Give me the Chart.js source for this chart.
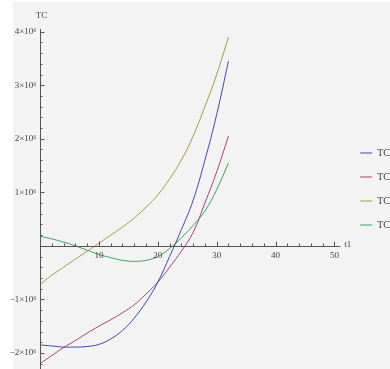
<!DOCTYPE html>
<html>
<head>
<meta charset="utf-8">
<script src="https://cdn.jsdelivr.net/npm/chart.js@4.4.1/dist/chart.umd.min.js"></script>
<style>
  html, body { margin: 0; padding: 0; background: #fff; overflow: hidden; }
  #wrap { width: 390px; height: 369px; overflow: hidden; }
</style>
</head>
<body>
<div id="wrap"><canvas id="chart" width="405" height="369"></canvas></div>
<script>
// t1 sample positions
const tValues = [0, 2, 4, 6, 8, 10, 12, 14, 16, 18, 20, 22, 24, 26, 28, 30, 32];

// TC values (in units of 10^6)
const blueTC  = [-1.85, -1.87, -1.89, -1.89, -1.88, -1.84, -1.74, -1.58, -1.35, -1.05, -0.68, -0.2, 0.3, 0.85, 1.6, 2.45, 3.45];
const redTC   = [-2.2, -2.05, -1.9, -1.77, -1.63, -1.5, -1.38, -1.25, -1.1, -0.9, -0.68, -0.4, -0.1, 0.25, 0.8, 1.38, 2.05];
const oliveTC = [-0.72, -0.55, -0.4, -0.25, -0.1, 0.05, 0.2, 0.35, 0.52, 0.72, 0.95, 1.25, 1.6, 2.05, 2.6, 3.2, 3.9];
const greenTC = [0.18, 0.13, 0.07, 0.0, -0.08, -0.16, -0.22, -0.27, -0.29, -0.27, -0.2, -0.05, 0.15, 0.38, 0.65, 1.05, 1.55];

// axis tick labels
const xTickValues = [10, 20, 30, 40, 50];
const yTickValues = [-2e6, -1e6, 1e6, 2e6, 3e6, 4e6];
const yTickLabels = ['\u22122\u00d710\u2076', '\u22121\u00d710\u2076', '1\u00d710\u2076', '2\u00d710\u2076', '3\u00d710\u2076', '4\u00d710\u2076'];

const seriesLabels = ['TC1', 'TC1', 'TC1', 'TC1'];
const seriesColors = ['#4646a6', '#a3437a', '#a89848', '#43a05c'];

const toPoints = vals => vals.map((v, i) => ({ x: tValues[i], y: v * 1e6 }));

const serif = 'Liberation Serif, DejaVu Serif, serif';

// background behind everything
const backdrop = {
    id: 'backdrop',
    beforeDraw(chart) {
        const ctx = chart.ctx;
        ctx.save();
        ctx.fillStyle = '#f3f3f3';
        ctx.fillRect(13, 2, chart.width, chart.height);
        ctx.restore();
    }
};

// axes through the origin, Mathematica style
const originAxes = {
    id: 'originAxes',
    afterDraw(chart) {
        const { ctx, scales: { x, y } } = chart;
        const x0 = Math.round(x.getPixelForValue(0)) + 0.5;
        const y0 = Math.round(y.getPixelForValue(0)) + 0.5;
        const xEnd = x.getPixelForValue(51);
        ctx.save();
        ctx.strokeStyle = '#555';
        ctx.lineWidth = 1;
        ctx.beginPath();
        // axis lines
        ctx.moveTo(x0, y0);
        ctx.lineTo(xEnd, y0);
        ctx.moveTo(x0, y.top);
        ctx.lineTo(x0, y.bottom);
        // tick marks
        for (let t = 2; t <= 50; t += 2) {
            const px = Math.round(x.getPixelForValue(t)) + 0.5;
            const len = t % 10 === 0 ? 5 : 3;
            ctx.moveTo(px, y0);
            ctx.lineTo(px, y0 - len);
        }
        for (let v = -22; v <= 40; v += 2) {
            if (v === 0) continue;
            const py = Math.round(y.getPixelForValue(v * 1e5)) + 0.5;
            const len = v % 10 === 0 ? 4 : 2;
            ctx.moveTo(x0, py);
            ctx.lineTo(x0 + len, py);
        }
        ctx.stroke();

        ctx.fillStyle = '#444';
        ctx.font = '9px ' + serif;
        ctx.textBaseline = 'middle';
        ctx.textAlign = 'center';
        xTickValues.forEach(v => ctx.fillText(String(v), x.getPixelForValue(v), y0 + 9));
        ctx.textAlign = 'right';
        yTickValues.forEach((v, i) => ctx.fillText(yTickLabels[i], x0 - 4, y.getPixelForValue(v)));
        ctx.textAlign = 'center';
        ctx.fillText('TC', x0 + 1, 16);
        ctx.textAlign = 'left';
        ctx.fillText('t1', xEnd + 4, y0 - 2);
        ctx.restore();
    }
};

new Chart(document.getElementById('chart'), {
    type: 'scatter',
    data: {
        datasets: [blueTC, redTC, oliveTC, greenTC].map((vals, i) => ({
            label: seriesLabels[i],
            data: toPoints(vals),
            showLine: true,
            borderColor: seriesColors[i],
            backgroundColor: seriesColors[i],
            borderWidth: 1,
            pointRadius: 0,
            tension: 0.4
        }))
    },
    options: {
        responsive: false,
        animation: false,
        layout: { padding: { left: 40, top: 29, right: 0, bottom: 0 } },
        plugins: {
            legend: {
                position: 'right',
                align: 'start',
                title: { display: true, text: ' ', padding: { top: 93, bottom: 0 }, font: { size: 10 } },
                labels: {
                    usePointStyle: true,
                    pointStyle: 'line',
                    pointStyleWidth: 12,
                    padding: 14,
                    color: '#444',
                    font: { family: serif, size: 10 }
                }
            },
            tooltip: { enabled: false }
        },
        scales: {
            x: { type: 'linear', display: false, min: 0, max: 52 },
            y: { type: 'linear', display: false, min: -2.3e6, max: 4.05e6 }
        }
    },
    plugins: [backdrop, originAxes]
});
</script>
</body>
</html>
